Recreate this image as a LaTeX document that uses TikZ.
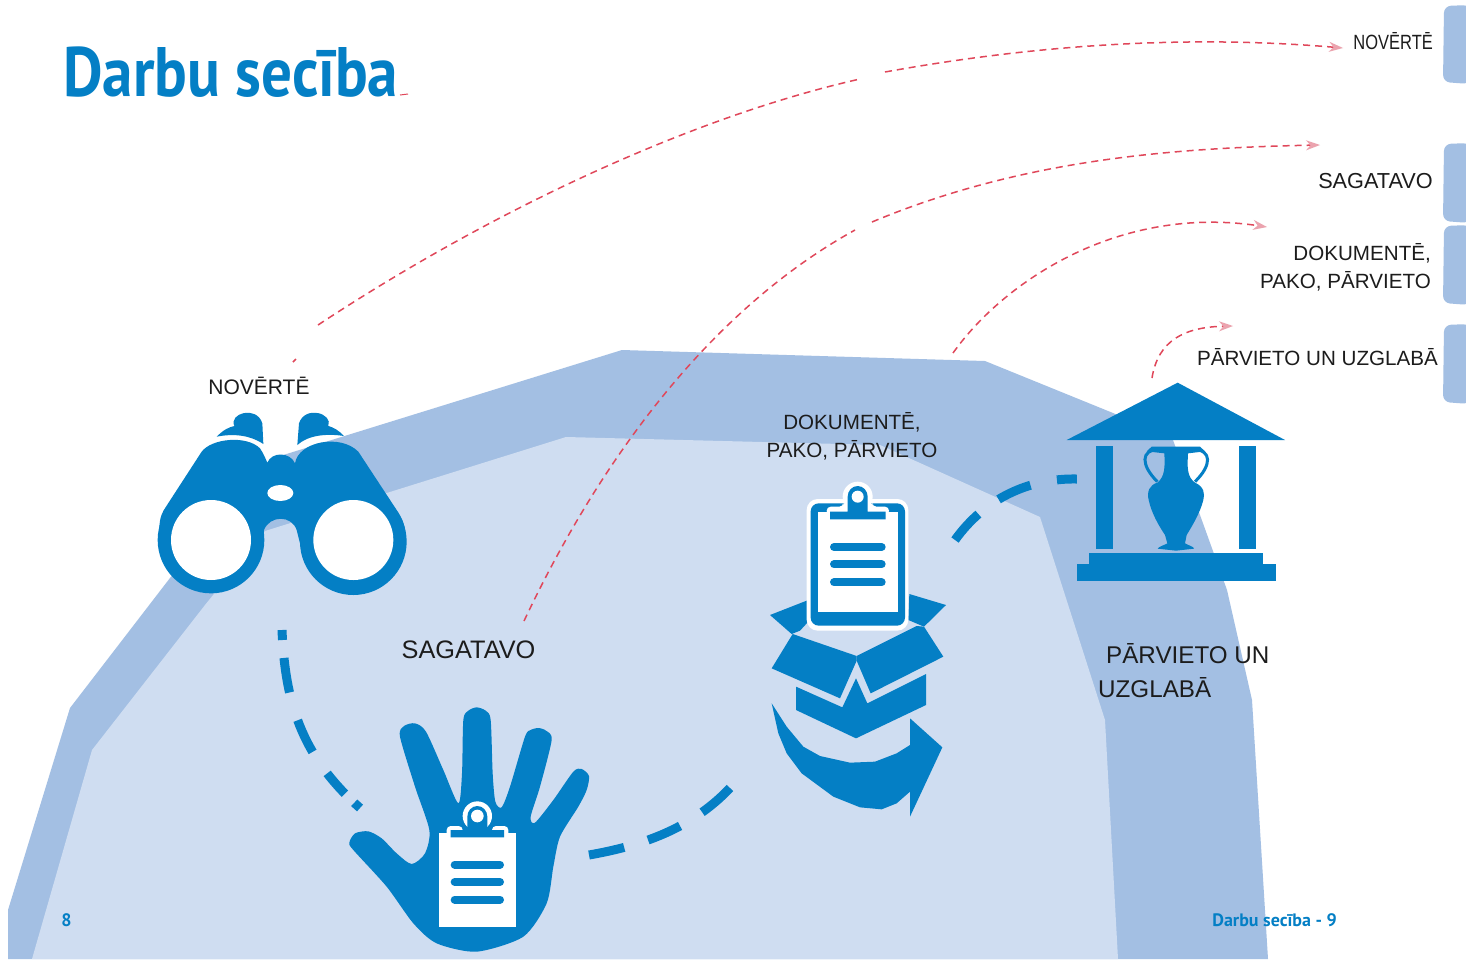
\documentclass[tikz,border=0pt]{standalone}
\usepackage{fontspec}
\usepackage{graphicx}
\setmainfont{Liberation Sans}
\newfontfamily\titlefont{PT Sans}
\usetikzlibrary{arrows.meta}
\definecolor{iconblue}{HTML}{047FC5}
\definecolor{bandblue}{HTML}{A3BFE3}
\definecolor{paleblue}{HTML}{CFDDF1}
\definecolor{redline}{HTML}{E0475A}
\definecolor{pinktip}{HTML}{EBA3AE}
\definecolor{labeltext}{HTML}{1C1C1C}
\tikzset{
  lbl/.style={text=labeltext,inner sep=0pt,font=\fontsize{20.6}{28}\selectfont},
  iconfill/.style={fill=iconblue,draw=none},
  whitefill/.style={fill=white,draw=none},
  tabshape/.style={fill=bandblue,draw=none,rounded corners=7pt},
  flowdash/.style={draw=iconblue,line width=9pt},
  reddash/.style={draw=redline,line width=1.5pt,dash pattern=on 7pt off 5pt},
  redtip/.style={-{Stealth[length=14pt,width=10pt,color=pinktip]}},
  listbar/.style={draw=iconblue,line width=8pt,line cap=round},
  zoomed/.style={scale=0.33333}
}
\begin{document}
\begin{tikzpicture}[x=1pt,y=-1pt]
\useasboundingbox (0,0) rectangle (1466,959);
\fill[white] (0,0) rectangle (1466,959);
% background bands
\fill[bandblue] (8,959) -- (8,910) -- (70,708) -- (170,578) -- (280,456) -- (622,350) -- (985,361) -- (1113,413) -- (1173,440) -- (1227,590) -- (1252,700) -- (1268,959) -- cycle;
\fill[paleblue] (32,959) -- (92,750) -- (205,605) -- (265,531) -- (566,437) -- (880,445) -- (1040,517) -- (1105,720) -- (1118,959) -- cycle;
% right tabs
\fill[tabshape] (1470,5) -- (1444,6) -- (1443,82) -- (1470,84) -- cycle;
\fill[tabshape] (1470,143) -- (1444,144) -- (1443,221) -- (1470,223) -- cycle;
\fill[tabshape] (1470,225) -- (1444,226) -- (1443,303) -- (1470,305) -- cycle;
\fill[tabshape] (1470,324) -- (1444,325) -- (1443,402) -- (1470,404) -- cycle;
% title
\node[anchor=base west,inner sep=0pt,text=iconblue] (title) at (63,96) {\titlefont\bfseries\fontsize{70}{80}\selectfont\scalebox{0.873}[1]{Darbu secība}};
\coordinate (titleA) at (400,95);
\coordinate (titleB) at (408,94);
\draw[redline,line width=1pt] (titleA) -- (titleB);
% binoculars
\begin{scope}[shift={(140,370)},zoomed]
  \fill[iconfill] (213,510) circle [radius=160];
  \fill[iconfill] (640,515) circle [radius=160];
  \fill[iconfill] (58,480) .. controls (58,440) and (68,425) .. (78,410) -- (185,245)
    .. controls (215,205) and (320,195) .. (360,235)
    .. controls (370,250) and (375,262) .. (382,278)
    .. controls (395,245) and (450,245) .. (465,280)
    .. controls (475,215) and (600,190) .. (655,245)
    -- (770,420) .. controls (790,450) and (797,470) .. (797,510)
    -- (480,520) -- (470,480) .. controls (455,435) and (390,435) .. (372,480) -- (370,520) -- cycle;
  \fill[iconfill] (230,200) .. controls (250,180) and (265,172) .. (283,168)
    .. controls (265,130) and (350,105) .. (367,160)
    -- (370,222) .. controls (330,195) and (280,190) .. (230,200) -- cycle;
  \fill[iconfill] (612,198) .. controls (595,180) and (580,172) .. (565,168)
    .. controls (580,130) and (495,105) .. (477,160)
    -- (472,225) .. controls (505,195) and (560,190) .. (612,198) -- cycle;
  \fill[whitefill] (213,510) circle [radius=120];
  \fill[whitefill] (640,510) circle [radius=120];
  \fill[whitefill] (421,369) ellipse [x radius=39,y radius=24];
\end{scope}
\node[lbl,font=\fontsize{21}{25}\selectfont] (novA) at (259,386) {NOVĒRTĒ};
% hand
\begin{scope}[shift={(340,690)},zoomed]
  \fill[iconfill] plot[smooth cycle,tension=0.45] coordinates {
    (28,458) (45,430) (85,424) (125,445) (170,490) (215,522) (255,490) (268,420) (225,290) (180,140) (192,108) (225,100) (258,125) (310,240) (355,340)
    (366,250) (370,90) (385,62) (410,52) (437,62) (452,90) (458,250) (466,335) (485,352) (510,290) (555,140) (572,120) (595,114) (618,122) (635,150) (600,290) (572,380) (585,398)
    (640,330) (700,245) (725,237) (747,258) (740,300) (715,350) (660,440) (640,530) (620,640) (550,740) (410,785) (290,760) (220,700) (140,590) (40,480)};
  \fill[whitefill] (298,428) rectangle (528,712);
  \fill[whitefill,rounded corners=4pt] (320,445) -- (320,408) -- (368,408) -- (368,440) -- (456,440) -- (456,408) -- (505,408) -- (505,445) -- cycle;
  \fill[whitefill] (412,378) circle [radius=44];
  \fill[iconfill] (382,380) arc [start angle=180,end angle=360,x radius=30,y radius=32] -- (442,420) -- (492,420) -- (492,442) -- (332,442) -- (332,420) -- (382,420) -- cycle;
  \fill[whitefill] (412,378) circle [radius=19];
  \draw[listbar] (344,524) -- (480,524);
  \draw[listbar] (344,576) -- (480,576);
  \draw[listbar] (344,629) -- (480,629);
\end{scope}
\node[lbl,font=\fontsize{25.3}{28}\selectfont] (sagA) at (468.5,649.5) {SAGATAVO};
% box and clipboard
\begin{scope}[shift={(750,470)},zoomed]
  \fill[iconfill] (60,435) -- (175,390) -- (175,455) -- (150,482) -- (125,492) -- cycle;
  \fill[iconfill] (478,372) -- (588,405) -- (522,470) -- (475,450) -- cycle;
  \fill[iconfill] (128,492) -- (320,558) -- (320,572) -- (270,685) -- (65,595) -- cycle;
  \fill[iconfill] (320,558) -- (500,468) -- (522,470) -- (580,560) -- (362,670) -- (320,572) -- cycle;
  \fill[iconfill] (138,650) -- (277,712) -- (318,625) -- (352,700) -- (528,612) -- (528,705) -- (318,805) -- (138,720) -- cycle;
  \fill[iconfill] (65,700) -- (110,770) -- (160,830) -- (210,858) -- (300,878) -- (375,875) -- (440,850) -- (480,825) -- (480,745) -- (577,832) -- (480,1040) -- (480,965) -- (440,1000) -- (395,1018) -- (330,1012) -- (250,980) -- (155,910) -- (110,850) -- (85,790) -- cycle;
  \fill[whitefill,rounded corners=11pt] (170,87) rectangle (475,482);
  \fill[whitefill] (323,80) circle [radius=45];
  \fill[iconfill,rounded corners=8pt] (182,100) rectangle (465,467);
  \fill[whitefill] (205,125) rectangle (445,425);
  \fill[whitefill,rounded corners=4pt] (230,135) -- (230,110) -- (280,110) -- (280,95) -- (367,95) -- (367,110) -- (417,110) -- (417,135) -- cycle;
  \fill[iconfill] (293,80) arc [start angle=180,end angle=360,x radius=30,y radius=32] -- (353,125) -- (407,125) -- (407,148) -- (240,148) -- (240,125) -- (293,125) -- cycle;
  \fill[whitefill] (323,80) circle [radius=18];
  \draw[listbar] (252,231) -- (395,231);
  \draw[listbar] (252,283) -- (395,283);
  \draw[listbar] (252,337) -- (395,337);
\end{scope}
\node[lbl,align=center] (dokA) at (852,436) {DOKUMENTĒ,\\PAKO, PĀRVIETO};
% temple
\begin{scope}[shift={(1050,370)},zoomed]
  \fill[iconfill] (50,210) -- (383,38) -- (705,210) -- cycle;
  \fill[iconfill] (137,228) rectangle (190,538);
  \fill[iconfill] (566,228) rectangle (619,538);
  \fill[iconfill] (117,548) rectangle (640,582);
  \fill[iconfill] (80,582) rectangle (677,634);
  \draw[draw=iconblue,line width=3pt] (325,238) .. controls (272,240) and (272,285) .. (322,335);
  \draw[draw=iconblue,line width=3pt] (430,238) .. controls (486,240) and (486,285) .. (435,335);
  \fill[iconfill] (305,230) -- (450,230) -- (465,244) -- (414,250)
    .. controls (412,290) and (410,320) .. (435,338)
    .. controls (462,350) and (465,370) .. (460,390)
    .. controls (450,430) and (425,470) .. (410,495)
    -- (405,520) .. controls (415,526) and (432,530) .. (432,536)
    -- (378,542) -- (323,536) .. controls (325,530) and (342,526) .. (352,520)
    -- (345,495) .. controls (325,465) and (305,430) .. (296,390)
    .. controls (290,365) and (298,345) .. (322,338)
    .. controls (345,320) and (345,290) .. (343,250) -- (290,244) -- cycle;
\end{scope}
\node[lbl,anchor=north west,align=left,font=\fontsize{24.2}{34}\selectfont] (parvA) at (1098,643) {\hspace*{8pt}PĀRVIETO UN\\UZGLABĀ};
% flow dashes
\coordinate (fa) at (282,630);
\coordinate (fb) at (360,808);
\draw[flowdash,dash pattern=on 10pt off 18pt on 35pt off 29pt on 35pt off 26pt on 27pt off 13pt on 10pt] (fa) .. controls (285,700) and (300,755) .. (fb);
\coordinate (fc) at (589,855);
\coordinate (fd) at (730,788);
\draw[flowdash,dash pattern=on 36pt off 25pt on 35pt off 26pt on 38pt] (fc) .. controls (640,846) and (690,830) .. (fd);
\coordinate (fe) at (955,540);
\coordinate (ff) at (1077,479);
\draw[flowdash,dash pattern=on 35pt off 25pt on 35pt off 27pt on 20pt] (fe) .. controls (985,498) and (1030,478) .. (ff);
% red curves
\coordinate (ra) at (293,362);
\coordinate (rb) at (296,359);
\coordinate (rc) at (318,325);
\coordinate (rd) at (860,79);
\coordinate (re) at (885,72);
\coordinate (rf) at (1343,48);
\draw[redline,line width=1.5pt] (ra) -- (rb);
\draw[reddash] (rc) .. controls (500,205) and (700,115) .. (rd);
\draw[reddash,redtip] (re) .. controls (1040,44) and (1190,35) .. (rf);
\coordinate (sa) at (524,621);
\coordinate (sb) at (855,230);
\coordinate (sc) at (872,222);
\coordinate (sd) at (1320,145);
\draw[reddash] (sa) .. controls (600,460) and (710,310) .. (sb);
\draw[reddash,redtip] (sc) .. controls (1020,160) and (1170,148) .. (sd);
\coordinate (ta) at (953,353);
\coordinate (tb) at (1267,227);
\draw[reddash,redtip] (ta) .. controls (1005,280) and (1120,205) .. (tb);
\coordinate (ua) at (1152,378);
\coordinate (ub) at (1233,326);
\draw[reddash,redtip] (ua) .. controls (1158,340) and (1185,327) .. (ub);
% right labels
\node[lbl,anchor=east] (novB) at (1433,41) {\scalebox{0.8}[1]{NOVĒRTĒ}};
\node[lbl,anchor=east,font=\fontsize{21.7}{26}\selectfont] (sagB) at (1433,181) {SAGATAVO};
\node[lbl,anchor=east,align=right] (dokB) at (1431,267) {DOKUMENTĒ,\\PAKO, PĀRVIETO};
\node[lbl,anchor=east] (parvB) at (1438,357) {PĀRVIETO UN UZGLABĀ};
% page numbers
\node[anchor=base,inner sep=0pt,text=iconblue] (pageL) at (66.5,926) {\titlefont\bfseries\fontsize{18}{20}\selectfont 8};
\node[anchor=base east,inner sep=0pt,text=iconblue] (pageR) at (1337,926) {\titlefont\bfseries\fontsize{18}{20}\selectfont Darbu secība - 9};
\end{tikzpicture}
\end{document}
